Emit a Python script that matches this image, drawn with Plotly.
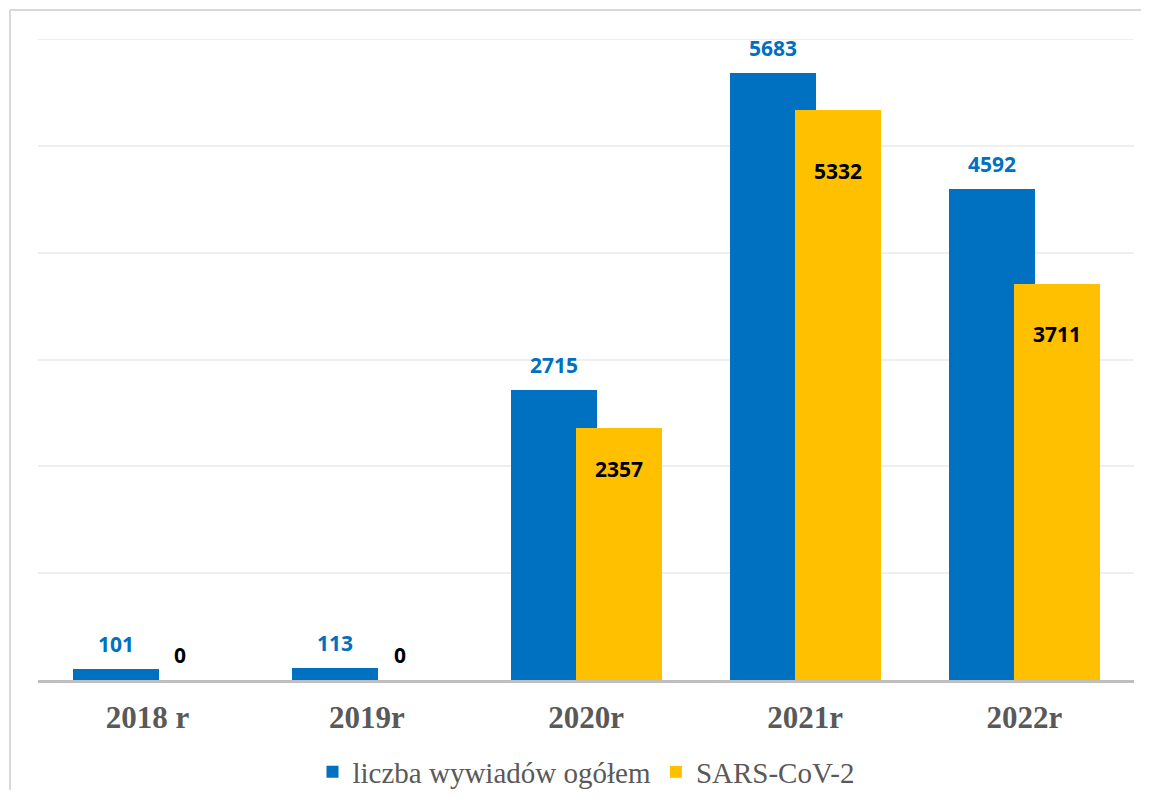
import plotly.graph_objects as go

categories = ["2018 r", "2019r", "2020r", "2021r", "2022r"]
total_interviews = [101, 113, 2715, 5683, 4592]
sars_cov2 = [0, 0, 2357, 5332, 3711]
series_names = ["liczba wywiadów ogółem", "SARS-CoV-2"]

BLUE = "#0070C0"
ORANGE = "#FFC000"
BAR_W = 0.392
OFF_BLUE = -0.342
OFF_ORANGE = -0.046
Y_MAX = 6000
INSIDE_FRAC = 0.937  # inner labels sit slightly below the bar end

x_idx = list(range(len(categories)))

fig = go.Figure()
fig.add_trace(go.Bar(
    x=x_idx, y=total_interviews, name=series_names[0],
    marker=dict(color=BLUE, line=dict(width=0)),
    width=BAR_W, offset=OFF_BLUE, hoverinfo="y",
))
fig.add_trace(go.Bar(
    x=x_idx, y=sars_cov2, name=series_names[1],
    marker=dict(color=ORANGE, line=dict(width=0)),
    width=BAR_W, offset=OFF_ORANGE, hoverinfo="y",
))

label_font = "Noto Sans"
annotations = []
for i, v in enumerate(total_interviews):
    annotations.append(dict(
        x=i + OFF_BLUE + BAR_W / 2, y=v, xref="x", yref="y",
        text=f"<b>{v}</b>", showarrow=False, yanchor="middle", yshift=25,
        font=dict(family=label_font, size=21, color=BLUE),
    ))
for i, v in enumerate(sars_cov2):
    annotations.append(dict(
        x=i + OFF_ORANGE + BAR_W / 2,
        y=(v if v == 0 else v * INSIDE_FRAC), xref="x", yref="y",
        text=f"<b>{v}</b>", showarrow=False, yanchor="middle",
        yshift=25 if v == 0 else -25,
        font=dict(family=label_font, size=21, color="#000000"),
    ))

# page body has an 8px margin; figure is sized to fit inside the window
W, H = 1133, 782
ML, MR, MT, MB = 30, 7, 31, 110
pw, ph = W - ML - MR, H - MT - MB

fig.update_layout(
    width=W, height=H,
    paper_bgcolor="white", plot_bgcolor="white",
    margin=dict(l=ML, r=MR, t=MT, b=MB, autoexpand=False),
    barmode="overlay",
    bargap=0, bargroupgap=0,
    showlegend=True,
    legend=dict(
        orientation="h", x=0.5, xanchor="center",
        y=-92 / ph, yanchor="middle",
        font=dict(family="Liberation Serif", size=29, color="#595959"),
        itemwidth=30, tracegroupgap=0,
    ),
    annotations=annotations,
    shapes=[
        dict(type="line", xref="x", yref="y",
             x0=-0.5, x1=len(categories) - 0.5, y0=Y_MAX, y1=Y_MAX,
             line=dict(color="#efefef", width=2), layer="below"),
        dict(type="line", xref="paper", yref="paper",
             x0=-28 / pw, x1=1.05, y0=1 + 29 / ph, y1=1 + 29 / ph,
             line=dict(color="#d9d9d9", width=2)),
        dict(type="line", xref="paper", yref="paper",
             x0=-28 / pw, x1=-28 / pw, y0=1 + 29 / ph, y1=-0.3,
             line=dict(color="#d9d9d9", width=2)),
    ],
)

fig.update_xaxes(
    tickmode="array", tickvals=x_idx, ticktext=categories,
    range=[-0.5, len(categories) - 0.5],
    showgrid=False, zeroline=False, automargin=False,
    showline=True, linecolor="#bfbfbf", linewidth=3,
    ticks="", ticklabelstandoff=8,
    tickfont=dict(family="Liberation Serif", size=31, color="#595959", weight="bold"),
)
fig.update_yaxes(
    range=[0, Y_MAX], dtick=1000, automargin=False,
    showgrid=True, gridcolor="#efefef", gridwidth=2,
    zeroline=False, showticklabels=False, ticks="",
)

fig.write_html("out.html")
